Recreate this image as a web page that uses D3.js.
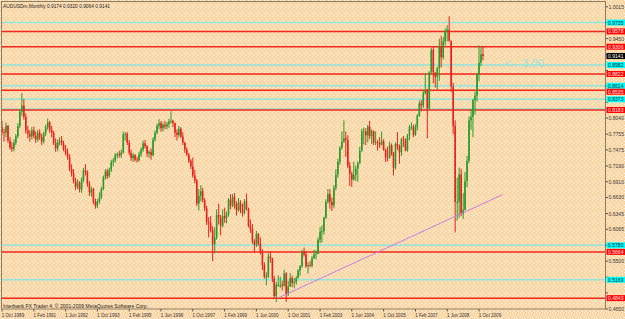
<!DOCTYPE html>
<meta charset="utf-8">
<body style="margin:0;background:#fbd9ab">
<div id="chart"></div>
<script src="https://d3js.org/d3.v7.min.js"></script>
<script>

var w = 625;
var h = 319;

// monthly AUDUSD bars, first one is Oct 1989 : [open, high, low, close]
var firstMonth = "1989-10-01";
var bars = [
  // 1989 (Oct-Dec)
  [0.7880,0.7990,0.7740,0.7790],[0.7790,0.7850,0.7620,0.7780],[0.7780,0.7960,0.7700,0.7900],
  // 1990
  [0.7900,0.7920,0.7600,0.7640],[0.7640,0.7700,0.7480,0.7520],[0.7520,0.7610,0.7440,0.7490],
  [0.7490,0.7660,0.7450,0.7600],[0.7600,0.7760,0.7560,0.7720],[0.7720,0.7950,0.7680,0.7900],
  [0.7900,0.8190,0.7860,0.8150],[0.8150,0.8480,0.8080,0.8260],[0.8260,0.8380,0.8010,0.8060],
  [0.8060,0.8120,0.7760,0.7820],[0.7820,0.7900,0.7680,0.7760],[0.7760,0.7830,0.7620,0.7710],
  // 1991
  [0.7710,0.7880,0.7660,0.7820],[0.7820,0.7890,0.7680,0.7730],[0.7730,0.7800,0.7600,0.7660],
  [0.7660,0.7830,0.7620,0.7780],[0.7780,0.7840,0.7650,0.7700],[0.7700,0.7760,0.7560,0.7620],
  [0.7620,0.7800,0.7590,0.7770],[0.7770,0.7920,0.7720,0.7880],[0.7880,0.8030,0.7830,0.7960],
  [0.7960,0.7990,0.7780,0.7830],[0.7830,0.7900,0.7700,0.7780],[0.7780,0.7810,0.7560,0.7600],
  // 1992
  [0.7600,0.7680,0.7440,0.7500],[0.7500,0.7660,0.7450,0.7610],[0.7610,0.7700,0.7560,0.7640],
  [0.7640,0.7720,0.7550,0.7590],[0.7590,0.7640,0.7450,0.7480],[0.7480,0.7560,0.7380,0.7420],
  [0.7420,0.7500,0.7300,0.7350],[0.7350,0.7400,0.7100,0.7140],[0.7140,0.7220,0.7000,0.7060],
  [0.7060,0.7130,0.6880,0.6920],[0.6920,0.6980,0.6760,0.6820],[0.6820,0.6950,0.6780,0.6890],
  // 1993
  [0.6890,0.6920,0.6720,0.6770],[0.6770,0.6980,0.6710,0.6940],[0.6940,0.7150,0.6900,0.7110],
  [0.7110,0.7220,0.7020,0.7080],[0.7080,0.7110,0.6820,0.6870],[0.6870,0.6920,0.6660,0.6720],
  [0.6720,0.6820,0.6640,0.6780],[0.6780,0.6800,0.6510,0.6560],[0.6560,0.6610,0.6430,0.6480],
  [0.6480,0.6600,0.6440,0.6560],[0.6560,0.6720,0.6520,0.6640],[0.6640,0.6820,0.6600,0.6780],
  // 1994
  [0.6780,0.7020,0.6760,0.6990],[0.6990,0.7130,0.6950,0.7090],[0.7090,0.7140,0.6960,0.7010],
  [0.7010,0.7160,0.6980,0.7120],[0.7120,0.7300,0.7080,0.7260],[0.7260,0.7330,0.7180,0.7290],
  [0.7290,0.7420,0.7250,0.7380],[0.7380,0.7430,0.7320,0.7400],[0.7400,0.7460,0.7340,0.7380],
  [0.7380,0.7480,0.7330,0.7430],[0.7430,0.7800,0.7410,0.7750],[0.7750,0.7790,0.7640,0.7760],
  // 1995
  [0.7760,0.7790,0.7560,0.7600],[0.7600,0.7650,0.7380,0.7420],[0.7420,0.7480,0.7280,0.7330],
  [0.7330,0.7420,0.7260,0.7380],[0.7380,0.7400,0.7270,0.7300],[0.7300,0.7350,0.7250,0.7290],
  [0.7290,0.7440,0.7270,0.7400],[0.7400,0.7520,0.7350,0.7480],[0.7480,0.7640,0.7440,0.7590],
  [0.7590,0.7650,0.7500,0.7540],[0.7540,0.7560,0.7350,0.7410],[0.7410,0.7470,0.7330,0.7440],
  // 1996
  [0.7440,0.7500,0.7300,0.7380],[0.7380,0.7700,0.7360,0.7660],[0.7660,0.7820,0.7620,0.7780],
  [0.7780,0.7940,0.7750,0.7900],[0.7900,0.8020,0.7840,0.7950],[0.7950,0.7990,0.7800,0.7860],
  [0.7860,0.7960,0.7800,0.7920],[0.7920,0.7990,0.7840,0.7890],[0.7890,0.7970,0.7840,0.7930],
  [0.7930,0.8030,0.7860,0.7980],[0.7980,0.8160,0.7940,0.7990],[0.7990,0.8010,0.7880,0.7950],
  // 1997
  [0.7950,0.7960,0.7700,0.7780],[0.7780,0.7840,0.7640,0.7740],[0.7740,0.7900,0.7700,0.7850],
  [0.7850,0.7880,0.7680,0.7710],[0.7710,0.7790,0.7560,0.7600],[0.7600,0.7620,0.7420,0.7480],
  [0.7480,0.7520,0.7360,0.7390],[0.7390,0.7420,0.7240,0.7280],[0.7280,0.7310,0.7130,0.7180],
  [0.7180,0.7340,0.6980,0.7020],[0.7020,0.7120,0.6880,0.6930],[0.6930,0.6960,0.6480,0.6520],
  // 1998
  [0.6520,0.6780,0.6400,0.6660],[0.6660,0.6850,0.6560,0.6740],[0.6740,0.6800,0.6540,0.6580],
  [0.6580,0.6620,0.6390,0.6440],[0.6440,0.6480,0.6140,0.6190],[0.6190,0.6280,0.5920,0.6170],
  [0.6170,0.6300,0.6010,0.6050],[0.6050,0.6120,0.5500,0.5800],[0.5800,0.6100,0.5640,0.5920],
  [0.5920,0.6420,0.5880,0.6320],[0.6320,0.6520,0.6150,0.6280],[0.6280,0.6320,0.5960,0.6130],
  // 1999
  [0.6130,0.6420,0.6100,0.6300],[0.6300,0.6450,0.6180,0.6260],[0.6260,0.6380,0.6170,0.6330],
  [0.6330,0.6620,0.6290,0.6590],[0.6590,0.6690,0.6420,0.6480],[0.6480,0.6690,0.6460,0.6640],
  [0.6640,0.6710,0.6430,0.6520],[0.6520,0.6560,0.6310,0.6400],[0.6400,0.6620,0.6380,0.6540],
  [0.6540,0.6580,0.6350,0.6410],[0.6410,0.6520,0.6290,0.6360],[0.6360,0.6600,0.6330,0.6560],
  // 2000
  [0.6560,0.6700,0.6400,0.6420],[0.6420,0.6450,0.6100,0.6120],[0.6120,0.6240,0.6000,0.6070],
  [0.6070,0.6160,0.5810,0.5850],[0.5850,0.5890,0.5650,0.5790],[0.5790,0.6040,0.5750,0.5980],
  [0.5980,0.6000,0.5770,0.5810],[0.5810,0.5920,0.5620,0.5660],[0.5660,0.5710,0.5340,0.5430],
  [0.5430,0.5480,0.5190,0.5220],[0.5220,0.5300,0.5070,0.5230],[0.5230,0.5640,0.5200,0.5580],
  // 2001
  [0.5580,0.5680,0.5470,0.5550],[0.5550,0.5560,0.5130,0.5190],[0.5190,0.5240,0.4850,0.4880],
  [0.4880,0.5130,0.4775,0.5080],[0.5080,0.5250,0.5040,0.5080],[0.5080,0.5220,0.5020,0.5080],
  [0.5080,0.5150,0.4980,0.5060],[0.5060,0.5350,0.5050,0.5280],[0.5280,0.5300,0.4776,0.4920],
  [0.4920,0.5150,0.4880,0.5050],[0.5050,0.5290,0.5040,0.5200],[0.5200,0.5240,0.5040,0.5110],
  // 2002
  [0.5110,0.5200,0.5020,0.5130],[0.5130,0.5230,0.5080,0.5200],[0.5200,0.5360,0.5190,0.5330],
  [0.5330,0.5430,0.5240,0.5410],[0.5410,0.5700,0.5380,0.5660],[0.5660,0.5740,0.5580,0.5620],
  [0.5620,0.5680,0.5380,0.5410],[0.5410,0.5480,0.5280,0.5430],[0.5430,0.5500,0.5390,0.5420],
  [0.5420,0.5590,0.5390,0.5550],[0.5550,0.5700,0.5540,0.5620],[0.5620,0.5690,0.5530,0.5630],
  // 2003
  [0.5630,0.5920,0.5620,0.5880],[0.5880,0.6100,0.5820,0.6020],[0.6020,0.6130,0.5830,0.6030],
  [0.6030,0.6290,0.5970,0.6270],[0.6270,0.6600,0.6250,0.6550],[0.6550,0.6780,0.6520,0.6690],
  [0.6690,0.6780,0.6430,0.6550],[0.6550,0.6630,0.6390,0.6490],[0.6490,0.6850,0.6440,0.6800],
  [0.6800,0.7130,0.6760,0.7040],[0.7040,0.7320,0.6980,0.7260],[0.7260,0.7540,0.7210,0.7510],
  // 2004
  [0.7510,0.7800,0.7480,0.7620],[0.7620,0.8000,0.7600,0.7680],[0.7680,0.7800,0.7350,0.7650],
  [0.7650,0.7730,0.7150,0.7190],[0.7190,0.7260,0.6830,0.7050],[0.7050,0.7090,0.6820,0.6950],
  [0.6950,0.7260,0.6930,0.7030],[0.7030,0.7200,0.6920,0.7140],[0.7140,0.7270,0.6910,0.7240],
  [0.7240,0.7530,0.7220,0.7460],[0.7460,0.7850,0.7440,0.7800],[0.7800,0.7870,0.7570,0.7800],
  // 2005
  [0.7800,0.7860,0.7560,0.7730],[0.7730,0.7920,0.7610,0.7890],[0.7890,0.7990,0.7670,0.7720],
  [0.7720,0.7840,0.7580,0.7810],[0.7810,0.7820,0.7560,0.7600],[0.7600,0.7800,0.7560,0.7610],
  [0.7610,0.7650,0.7460,0.7600],[0.7600,0.7700,0.7510,0.7570],[0.7570,0.7800,0.7550,0.7630],
  [0.7630,0.7660,0.7460,0.7480],[0.7480,0.7500,0.7260,0.7340],[0.7340,0.7530,0.7270,0.7330],
  // 2006
  [0.7330,0.7620,0.7320,0.7560],[0.7560,0.7590,0.7370,0.7410],[0.7410,0.7440,0.7020,0.7160],
  [0.7160,0.7610,0.7130,0.7580],[0.7580,0.7790,0.7470,0.7540],[0.7540,0.7570,0.7230,0.7430],
  [0.7430,0.7690,0.7370,0.7660],[0.7660,0.7720,0.7530,0.7640],[0.7640,0.7680,0.7450,0.7460],
  [0.7460,0.7760,0.7440,0.7730],[0.7730,0.7920,0.7650,0.7880],[0.7880,0.7960,0.7830,0.7890],
  // 2007
  [0.7890,0.7920,0.7700,0.7740],[0.7740,0.7930,0.7720,0.7880],[0.7880,0.8110,0.7820,0.8080],
  [0.8080,0.8350,0.8060,0.8300],[0.8300,0.8360,0.8160,0.8260],[0.8260,0.8520,0.8220,0.8480],
  [0.8480,0.8840,0.8460,0.8520],[0.8520,0.8560,0.7680,0.8210],[0.8210,0.8870,0.8190,0.8860],
  [0.8860,0.9290,0.8820,0.9250],[0.9250,0.9310,0.8660,0.8850],[0.8850,0.8850,0.8580,0.8770],
  // 2008
  [0.8770,0.8950,0.8540,0.8930],[0.8930,0.9450,0.8700,0.9300],[0.9300,0.9500,0.8940,0.9120],
  [0.9120,0.9480,0.9080,0.9400],[0.9400,0.9630,0.9330,0.9580],[0.9580,0.9690,0.9400,0.9610],
  [0.9610,0.9850,0.9420,0.9400],[0.9400,0.9420,0.8500,0.8600],[0.8600,0.8670,0.7750,0.7900],
  [0.7900,0.8000,0.6010,0.6550],[0.6550,0.6980,0.6220,0.6550],[0.6550,0.7160,0.6270,0.7040],
  // 2009
  [0.7040,0.7140,0.6300,0.6340],[0.6340,0.6710,0.6250,0.6410],[0.6410,0.7080,0.6400,0.6920],
  [0.6920,0.7370,0.6810,0.7280],[0.7280,0.8070,0.7240,0.8000],[0.8000,0.8200,0.7830,0.8060],
  [0.8060,0.8380,0.7700,0.8360],[0.8360,0.8510,0.8100,0.8440],[0.8440,0.8840,0.8330,0.8820],
  [0.8820,0.9330,0.8690,0.9020],[0.9020,0.9300,0.8960,0.9174],[0.9174,0.9320,0.9064,0.9141]
];

var lastPrice = 0.9141;
var titleText = "AUDUSDm,Monthly  0.9174 0.9320 0.9064 0.9141";

// horizontal levels drawn by hand on the chart
var redLevels  = [0.9578, 0.9306, 0.8822, 0.8535, 0.8183, 0.5664, 0.4843];
var cyanLevels = [0.9735, 0.8982, 0.8614, 0.8373, 0.8201, 0.5780, 0.5169];

// trend line under the 2001 - 2009 lows
var trendDates  = ["2001-05-13", "2010-10-01"];
var trendPrices = [0.4854, 0.6683];

var priceTicks = ["1.0015","0.9735","0.9450","0.9165","0.8885","0.8605","0.8320","0.8040","0.7755","0.7475",
                  "0.7190","0.6910","0.6630","0.6345","0.6065","0.5780","0.5500","0.5215","0.4935","0.4650"];

var dateTicks = ["1 Oct 1989","1 Feb 1991","1 Jun 1992","1 Oct 1993","1 Feb 1995","1 Jun 1996",
                 "1 Oct 1997","1 Feb 1999","1 Jun 2000","1 Oct 2001","1 Feb 2003","1 Jun 2004",
                 "1 Oct 2005","1 Feb 2007","1 Jun 2008","1 Oct 2009"];

var font = "Liberation Sans, Arial, sans-serif";
var frame = {left: 1.5, right: 605.5, top: 1.5, bottom: 309};

var parseIso = d3.utcParse("%Y-%m-%d");
var parseTick = d3.utcParse("%d %b %Y");
var start = parseIso(firstMonth);

var x = d3.scaleUtc()
    .domain([start, parseIso("2009-10-01")])
    .range([2, 479]);

var y = d3.scaleLinear()
    .domain([0.4650, 1.0015])
    .range([309, 6.8]);

var svg = d3.select("#chart")
    .append("svg")
    .attr("width", w)
    .attr("height", h)
    .style("display", "block");

// dotted orange background like the screenshot (scattered white pixels)
var defs = svg.append("defs");
var pat = defs.append("pattern")
    .attr("id", "dots")
    .attr("width", 8)
    .attr("height", 8)
    .attr("patternUnits", "userSpaceOnUse");
pat.append("rect").attr("width", 8).attr("height", 8).attr("fill", "#fbd4a0");
[[0,0],[3,0],[6,1],[1,2],[5,2],[3,3],[7,4],[0,5],[4,5],[2,6],[6,7],[1,7],[5,6],[2,4]].forEach(function(p) {
    pat.append("rect").attr("x", p[0]).attr("y", p[1]).attr("width", 1).attr("height", 1).attr("fill", "#fff7ec");
});

defs.append("clipPath")
    .attr("id", "plotclip")
    .append("rect")
    .attr("x", frame.left)
    .attr("y", frame.top)
    .attr("width", frame.right - frame.left)
    .attr("height", frame.bottom - frame.top);

svg.append("rect")
    .attr("width", w)
    .attr("height", h)
    .attr("fill", "url(#dots)");

var plot = svg.append("g").attr("clip-path", "url(#plotclip)");

// level lines
plot.selectAll(".cyanline")
    .data(cyanLevels)
    .enter()
    .append("line")
    .attr("x1", frame.left)
    .attr("x2", frame.right)
    .attr("y1", function(d) {return y(d);})
    .attr("y2", function(d) {return y(d);})
    .attr("stroke", "#8fe6dc")
    .attr("stroke-width", 1.5);

plot.selectAll(".redline")
    .data(redLevels)
    .enter()
    .append("line")
    .attr("x1", frame.left)
    .attr("x2", frame.right)
    .attr("y1", function(d) {return y(d);})
    .attr("y2", function(d) {return y(d);})
    .attr("stroke", "#f4261a")
    .attr("stroke-width", 1.5);

// candles
var candles = plot.selectAll(".candle")
    .data(bars)
    .enter()
    .append("g")
    .attr("class", "candle")
    .attr("transform", function(d, i) {return "translate(" + x(d3.utcMonth.offset(start, i)) + ",0)";});

function barColor(d) {
    return d[3] >= d[0] ? "#2a9a2a" : "#e4241c";
}

candles.append("line")
    .attr("x1", 0)
    .attr("x2", 0)
    .attr("y1", function(d) {return y(d[1]);})
    .attr("y2", function(d) {return y(d[2]);})
    .attr("stroke", barColor)
    .attr("stroke-width", 1);

candles.append("rect")
    .attr("x", -0.8)
    .attr("width", 1.6)
    .attr("y", function(d) {return y(Math.max(d[0], d[3]));})
    .attr("height", function(d) {return Math.max(0.8, Math.abs(y(d[0]) - y(d[3])));})
    .attr("fill", barColor);

// trend line
plot.append("line")
    .attr("x1", x(parseIso(trendDates[0])))
    .attr("y1", y(trendPrices[0]))
    .attr("x2", x(parseIso(trendDates[1])))
    .attr("y2", y(trendPrices[1]))
    .attr("stroke", "#c47ee6")
    .attr("stroke-width", 1);

plot.append("text")
    .text("<-- 3.00")
    .attr("x", 505)
    .attr("y", 66.5)
    .attr("textLength", 39)
    .attr("lengthAdjust", "spacingAndGlyphs")
    .attr("font-family", font)
    .attr("font-size", 11)
    .attr("fill", "#9fe2da");

// frame
svg.append("rect")
    .attr("x", frame.left)
    .attr("y", frame.top)
    .attr("width", frame.right - frame.left)
    .attr("height", frame.bottom - frame.top)
    .attr("fill", "none")
    .attr("stroke", "#8c7c64")
    .attr("stroke-width", 1);

svg.append("text")
    .text(titleText)
    .attr("x", 3)
    .attr("y", 7.5)
    .attr("textLength", 107)
    .attr("lengthAdjust", "spacingAndGlyphs")
    .attr("font-family", font)
    .attr("font-size", 5.5)
    .attr("fill", "#222");

svg.append("text")
    .text("Interbank FX Trader 4, \u00a9 2001-2009 MetaQuotes Software Corp.")
    .attr("x", 3)
    .attr("y", 307.5)
    .attr("textLength", 145)
    .attr("lengthAdjust", "spacingAndGlyphs")
    .attr("font-family", font)
    .attr("font-size", 5.5)
    .attr("fill", "#222");

// price boxes for the levels; a box sitting almost on top of another one
// is hidden under it (as in the terminal), close ones are nudged apart
var boxes = cyanLevels.map(function(v) {return {v: v, kind: "cyan"};})
    .concat(redLevels.map(function(v) {return {v: v, kind: "red"};}))
    .concat([{v: lastPrice, kind: "last"}]);
boxes.forEach(function(b) {b.y = y(b.v); b.hidden = false;});
boxes.forEach(function(b) {
    boxes.forEach(function(o) {
        if (b.kind === "cyan" && o.kind !== "cyan" && Math.abs(o.y - b.y) < 2) {b.hidden = true; b.y = o.y;}
    });
});
var shown = boxes.filter(function(b) {return !b.hidden;}).sort(function(a, b) {return a.y - b.y;});
for (var i = 1; i < shown.length; i++) {
    if (shown[i].y - shown[i - 1].y < 6) {shown[i].y = shown[i - 1].y + 6;}
}

// grey scale labels that a coloured box covers are not visible
function covered(v) {
    return shown.some(function(b) {return Math.abs(b.y - y(v)) < 6;});
}

var pticks = svg.selectAll(".ptick")
    .data(priceTicks)
    .enter()
    .append("g")
    .attr("transform", function(d) {return "translate(0," + y(+d) + ")";});

pticks.append("line")
    .attr("x1", frame.right)
    .attr("x2", frame.right + 2.5)
    .attr("stroke", "#555");

pticks.filter(function(d) {return !covered(+d);})
    .append("text")
    .text(function(d) {return d;})
    .attr("x", 608.5)
    .attr("y", 2)
    .attr("textLength", 15.5)
    .attr("lengthAdjust", "spacingAndGlyphs")
    .attr("font-family", font)
    .attr("font-size", 5.5)
    .attr("fill", "#333");

var boxFill = {cyan: "#00ffff", red: "#ff0000", last: "#000000"};
var boxText = {cyan: "#0a2a2a", red: "#ffe0e0", last: "#ffffff"};

var pbox = svg.selectAll(".pbox")
    .data(shown)
    .enter()
    .append("g")
    .attr("transform", function(d) {return "translate(0," + d.y + ")";});

pbox.append("rect")
    .attr("x", 606.5)
    .attr("y", -3)
    .attr("width", 18.5)
    .attr("height", 6)
    .attr("fill", function(d) {return boxFill[d.kind];});

pbox.append("text")
    .text(function(d) {return d.v.toFixed(4);})
    .attr("x", 608)
    .attr("y", 2)
    .attr("textLength", 15.5)
    .attr("lengthAdjust", "spacingAndGlyphs")
    .attr("font-family", font)
    .attr("font-size", 5.5)
    .attr("fill", function(d) {return boxText[d.kind];});

// time scale
var dticks = svg.selectAll(".dtick")
    .data(dateTicks)
    .enter()
    .append("g")
    .attr("transform", function(d) {return "translate(" + x(parseTick(d)) + ",0)";});

dticks.append("line")
    .attr("y1", frame.bottom)
    .attr("y2", frame.bottom + 2.5)
    .attr("stroke", "#555");

dticks.append("text")
    .text(function(d) {return d;})
    .attr("x", -0.3)
    .attr("y", 316.5)
    .attr("textLength", 22.5)
    .attr("lengthAdjust", "spacingAndGlyphs")
    .attr("font-family", font)
    .attr("font-size", 5.5)
    .attr("fill", "#333");

</script>
